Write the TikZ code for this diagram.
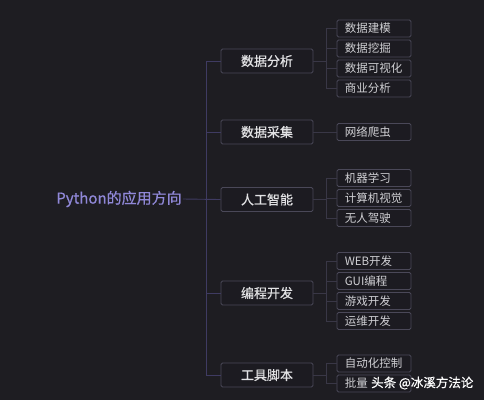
\documentclass[tikz,border=0pt]{standalone}
\usepackage{fontspec}
\setmainfont{Noto Sans CJK SC}
\newfontfamily\cjk{Noto Sans CJK SC}
\newfontfamily\cjkb[FakeBold=0.6]{Noto Sans CJK SC}
\definecolor{bg}{HTML}{1E1D22}
\definecolor{boxline}{HTML}{4A4858}
\definecolor{boxfill}{HTML}{1C1B21}
\definecolor{trunk}{HTML}{3F3B62}
\definecolor{twig}{HTML}{393746}
\definecolor{roottxt}{HTML}{9088D8}
\definecolor{txt}{HTML}{E2E2E4}
\definecolor{leaftxt}{HTML}{D0D0D4}
\tikzset{
  mainbox/.style={draw=boxline, line width=0.9pt, fill=boxfill, rounded corners=1.5pt,
    minimum width=92pt, minimum height=24pt, inner sep=0pt, text=txt, font=\cjkb\fontsize{13}{13}\selectfont},
  leafbox/.style={draw=boxline, line width=0.8pt, fill=boxfill, rounded corners=1.5pt,
    minimum width=74pt, minimum height=17pt, inner sep=0pt},
  leaflabel/.style={anchor=west, inner sep=0pt, text=leaftxt, font=\cjk\fontsize{11.5}{11.5}\selectfont},
  trunkline/.style={draw=trunk, line width=0.9pt},
  twigline/.style={draw=twig, line width=0.8pt},
}
\begin{document}
\begin{tikzpicture}[x=1pt,y=-1pt]
\fill[bg] (0,0) rectangle (484,400);
\useasboundingbox (0,0) rectangle (484,400);

% root
\node[text=roottxt, font=\cjkb\fontsize{15}{15}\selectfont, inner sep=0pt] (root) at (119,199) {Python的应用方向};

% trunk
\coordinate (ttop) at (206,61);
\coordinate (tbot) at (206,375);

% level 1
\node[mainbox] (a) at (267,61) {数据分析};
\node[mainbox] (b) at (267,132) {数据采集};
\node[mainbox] (c) at (267,199.5) {人工智能};
\node[mainbox] (d) at (267,293) {编程开发};
\node[mainbox] (e) at (267,375) {工具脚本};

\draw[trunkline] (ttop) -- (tbot);
\draw[trunkline] (root.east) ++(1pt,0) -- (c.west);
\foreach \n in {a,b,d,e} { \draw[trunkline] (\n.west -| ttop) -- (\n.west); }

% leaves
\def\leaf#1#2#3{\node[leafbox] (#1) at (374,#2) {}; \node[leaflabel] at ([xshift=8pt]#1.west) {#3};}
\leaf{a1}{28.5}{数据建模}
\leaf{a2}{48.5}{数据挖掘}
\leaf{a3}{68.5}{数据可视化}
\leaf{a4}{88.5}{商业分析}
\leaf{b1}{132}{网络爬虫}
\leaf{c1}{178}{机器学习}
\leaf{c2}{198}{计算机视觉}
\leaf{c3}{218}{无人驾驶}
\leaf{d1}{261}{WEB开发}
\leaf{d2}{281}{GUI编程}
\leaf{d3}{301}{游戏开发}
\leaf{d4}{321}{运维开发}
\leaf{e1}{363.5}{自动化控制}
\leaf{e2}{383.5}{批量}

% twigs
\coordinate (ja) at (326,61);
\coordinate (jc) at (326,199.5);
\coordinate (jd) at (326,293);
\coordinate (je) at (326,375);
\draw[twigline] (a.east) -- (ja);
\draw[twigline] (a1.west -| ja) -- (a4.west -| ja);
\foreach \n in {a1,a2,a3,a4} { \draw[twigline] (\n.west -| ja) -- (\n.west); }
\draw[twigline] (b.east) -- (b1.west);
\draw[twigline] (c.east) -- (jc);
\draw[twigline] (c1.west -| jc) -- (c3.west -| jc);
\foreach \n in {c1,c2,c3} { \draw[twigline] (\n.west -| jc) -- (\n.west); }
\draw[twigline] (d.east) -- (jd);
\draw[twigline] (d1.west -| jd) -- (d4.west -| jd);
\foreach \n in {d1,d2,d3,d4} { \draw[twigline] (\n.west -| jd) -- (\n.west); }
\draw[twigline] (e.east) -- (je);
\draw[twigline] (e1.west -| je) -- (e2.west -| je);
\foreach \n in {e1,e2} { \draw[twigline] (\n.west -| je) -- (\n.west); }

% watermark
\node[anchor=west, inner sep=0pt, text=white, font=\cjkb\fontsize{12.5}{12.5}\selectfont] (wm) at (371,383) {头条 @冰溪方法论};
\end{tikzpicture}
\end{document}
